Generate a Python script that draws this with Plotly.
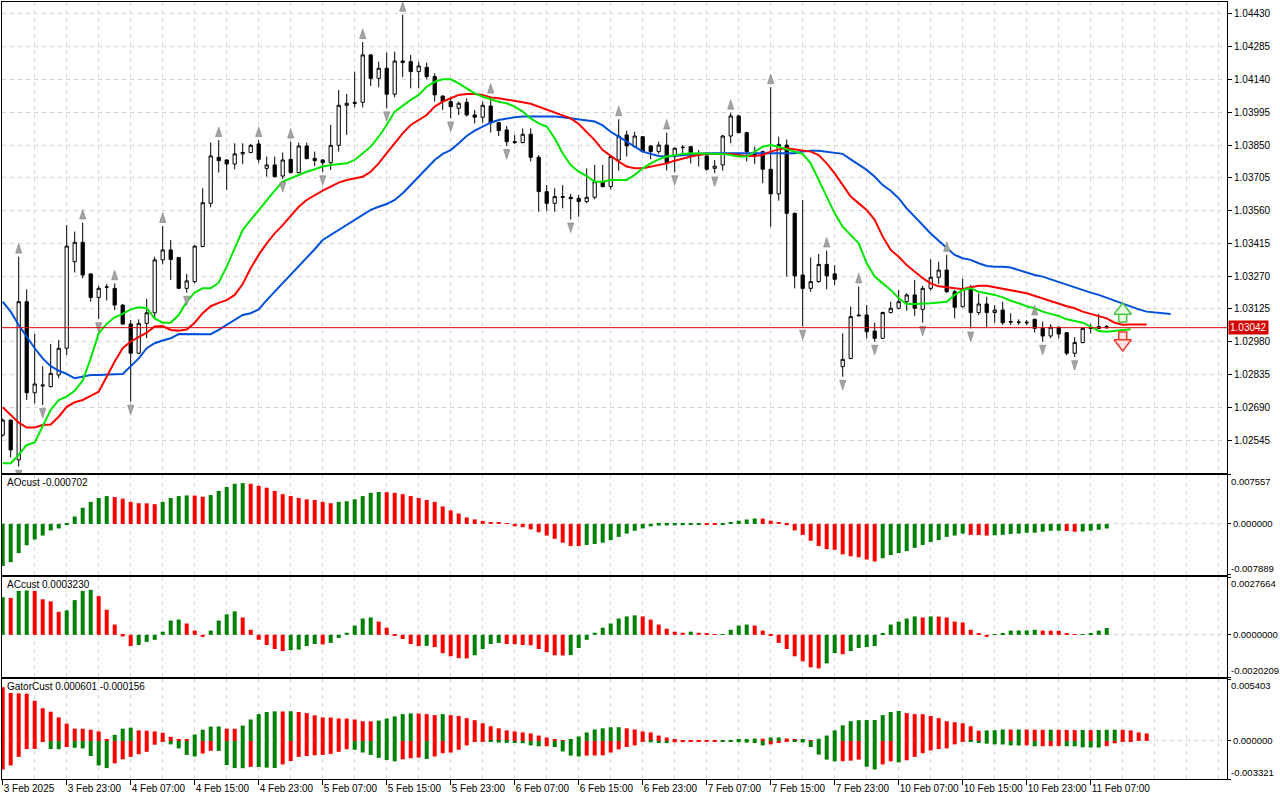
import plotly.graph_objects as go

# ---------------- time axis ----------------
TICK_BARS = [0, 8, 16, 24, 32, 40, 48, 56, 64, 72, 80, 88, 96, 104, 112, 120, 128, 136]
TICK_LABELS = ["3 Feb 2025", "3 Feb 23:00", "4 Feb 07:00", "4 Feb 15:00", "4 Feb 23:00",
               "5 Feb 07:00", "5 Feb 15:00", "5 Feb 23:00", "6 Feb 07:00", "6 Feb 15:00",
               "6 Feb 23:00", "7 Feb 07:00", "7 Feb 15:00", "7 Feb 23:00", "10 Feb 07:00",
               "10 Feb 15:00", "10 Feb 23:00", "11 Feb 07:00"]

PRICE_TICKS = [1.04430, 1.04285, 1.04140, 1.03995, 1.03850, 1.03705, 1.03560,
               1.03415, 1.03270, 1.03125, 1.02980, 1.02835, 1.02690, 1.02545]
PRICE_RANGE = [1.02399, 1.04483]

# ---------------- candles (EURUSD H1) ----------------
OPEN = [1.02567, 1.02633, 1.02457, 1.03157, 1.02754, 1.02784, 1.02781, 1.02833, 1.02951, 1.03334,
        1.03420, 1.03280, 1.03176, 1.03221, 1.03216, 1.03142, 1.03058, 1.02929, 1.03061, 1.03108,
        1.03342, 1.03386, 1.03352, 1.03216, 1.03246, 1.03401, 1.03592, 1.03796, 1.03784, 1.03766,
        1.03811, 1.03817, 1.03855, 1.03747, 1.03762, 1.03713, 1.03787, 1.03728, 1.03846, 1.03791,
        1.03784, 1.03772, 1.03849, 1.04026, 1.04039, 1.04039, 1.04249, 1.04145, 1.04190, 1.04075,
        1.04222, 1.04219, 1.04175, 1.04194, 1.04153, 1.04067, 1.04042, 1.04013, 1.04039, 1.03983,
        1.03973, 1.04023, 1.03949, 1.03917, 1.03865, 1.03861, 1.03898, 1.03796, 1.03644, 1.03592,
        1.03622, 1.03619, 1.03614, 1.03600, 1.03619, 1.03688, 1.03666, 1.03784, 1.03895, 1.03843,
        1.03887, 1.03846, 1.03821, 1.03850, 1.03799, 1.03839, 1.03843, 1.03809, 1.03802, 1.03747,
        1.03762, 1.03890, 1.03979, 1.03905, 1.03814, 1.03821, 1.03743, 1.03634, 1.03850, 1.03548,
        1.03275, 1.03216, 1.03246, 1.03322, 1.03280, 1.02870, 1.02906, 1.03098, 1.03098, 1.03027,
        1.02995, 1.03109, 1.03128, 1.03157, 1.03187, 1.03123, 1.03216, 1.03265, 1.03297, 1.03201,
        1.03135, 1.03221, 1.03109, 1.03147, 1.03109, 1.03120, 1.03069, 1.03067, 1.03066, 1.03079,
        1.03039, 1.03005, 1.03044, 1.03020, 1.02929, 1.02976, 1.03039, 1.03047, 1.03047]
HIGH = [1.02640, 1.02636, 1.03356, 1.03212, 1.03014, 1.02872, 1.02970, 1.02988, 1.03496, 1.03467,
        1.03507, 1.03283, 1.03227, 1.03235, 1.03238, 1.03147, 1.03076, 1.03079, 1.03169, 1.03356,
        1.03492, 1.03430, 1.03353, 1.03280, 1.03406, 1.03659, 1.03861, 1.03872, 1.03787, 1.03858,
        1.03858, 1.03855, 1.03872, 1.03799, 1.03799, 1.03817, 1.03865, 1.03861, 1.03861, 1.03821,
        1.03787, 1.03939, 1.04094, 1.04076, 1.04175, 1.04306, 1.04252, 1.04219, 1.04259, 1.04263,
        1.04426, 1.04249, 1.04219, 1.04215, 1.04168, 1.04069, 1.04064, 1.04042, 1.04057, 1.04005,
        1.04042, 1.04064, 1.03952, 1.03934, 1.03895, 1.03924, 1.03924, 1.03806, 1.03673, 1.03659,
        1.03673, 1.03634, 1.03629, 1.03747, 1.03762, 1.03762, 1.03806, 1.03964, 1.03914, 1.03909,
        1.03890, 1.03850, 1.03865, 1.03905, 1.03839, 1.03850, 1.03846, 1.03828, 1.03814, 1.03784,
        1.03895, 1.03993, 1.03983, 1.03909, 1.03843, 1.03825, 1.04106, 1.03887, 1.03875, 1.03551,
        1.03607, 1.03353, 1.03368, 1.03383, 1.03319, 1.03017, 1.03135, 1.03224, 1.03142, 1.03064,
        1.03113, 1.03157, 1.03209, 1.03194, 1.03253, 1.03227, 1.03344, 1.03334, 1.03364, 1.03209,
        1.03260, 1.03231, 1.03194, 1.03179, 1.03142, 1.03157, 1.03106, 1.03079, 1.03076, 1.03082,
        1.03069, 1.03058, 1.03047, 1.03023, 1.03000, 1.03042, 1.03058, 1.03103, 1.03054]
LOW = [1.02560, 1.02468, 1.02427, 1.02722, 1.02707, 1.02700, 1.02778, 1.02818, 1.02921, 1.03286,
       1.03260, 1.03157, 1.03080, 1.03162, 1.03120, 1.03054, 1.02715, 1.02926, 1.02995, 1.03083,
       1.03322, 1.03253, 1.03215, 1.03197, 1.03238, 1.03398, 1.03575, 1.03728, 1.03651, 1.03743,
       1.03766, 1.03814, 1.03772, 1.03710, 1.03707, 1.03700, 1.03725, 1.03725, 1.03787, 1.03757,
       1.03730, 1.03740, 1.03821, 1.03895, 1.04017, 1.04017, 1.04111, 1.04106, 1.04013, 1.04061,
       1.04150, 1.04101, 1.04101, 1.04141, 1.04042, 1.04005, 1.03968, 1.03983, 1.03976, 1.03946,
       1.03949, 1.03905, 1.03890, 1.03846, 1.03855, 1.03858, 1.03777, 1.03555, 1.03560, 1.03555,
       1.03570, 1.03521, 1.03533, 1.03592, 1.03610, 1.03663, 1.03654, 1.03737, 1.03799, 1.03840,
       1.03817, 1.03787, 1.03811, 1.03737, 1.03730, 1.03814, 1.03769, 1.03755, 1.03737, 1.03725,
       1.03737, 1.03858, 1.03902, 1.03777, 1.03766, 1.03681, 1.03489, 1.03604, 1.03268, 1.03216,
       1.03047, 1.03201, 1.03241, 1.03212, 1.03231, 1.02825, 1.02902, 1.03091, 1.02995, 1.02980,
       1.02992, 1.03105, 1.03123, 1.03117, 1.03094, 1.03064, 1.03206, 1.03235, 1.03197, 1.03083,
       1.03132, 1.03039, 1.03098, 1.03045, 1.03064, 1.03054, 1.03054, 1.03054, 1.03054, 1.03020,
       1.02980, 1.02995, 1.02995, 1.02920, 1.02912, 1.02973, 1.03017, 1.03036, 1.03038]
CLOSE = [1.02633, 1.02501, 1.03157, 1.02754, 1.02793, 1.02788, 1.02840, 1.02951, 1.03403, 1.03420,
         1.03275, 1.03176, 1.03216, 1.03222, 1.03142, 1.03058, 1.02929, 1.03061, 1.03108, 1.03342,
         1.03386, 1.03344, 1.03216, 1.03249, 1.03403, 1.03595, 1.03802, 1.03781, 1.03766, 1.03811,
         1.03817, 1.03849, 1.03787, 1.03762, 1.03710, 1.03784, 1.03728, 1.03846, 1.03790, 1.03781,
         1.03772, 1.03849, 1.04026, 1.04035, 1.04035, 1.04249, 1.04145, 1.04190, 1.04075, 1.04222,
         1.04216, 1.04175, 1.04200, 1.04153, 1.04072, 1.04042, 1.04020, 1.04035, 1.03983, 1.03973,
         1.04026, 1.03949, 1.03914, 1.03865, 1.03861, 1.03898, 1.03796, 1.03644, 1.03592, 1.03622,
         1.03619, 1.03613, 1.03600, 1.03619, 1.03688, 1.03666, 1.03799, 1.03890, 1.03846, 1.03890,
         1.03821, 1.03821, 1.03850, 1.03772, 1.03836, 1.03840, 1.03806, 1.03805, 1.03743, 1.03757,
         1.03890, 1.03979, 1.03905, 1.03821, 1.03802, 1.03743, 1.03634, 1.03853, 1.03548, 1.03271,
         1.03216, 1.03246, 1.03322, 1.03271, 1.03256, 1.02902, 1.03091, 1.03095, 1.03024, 1.02995,
         1.03109, 1.03128, 1.03157, 1.03187, 1.03128, 1.03216, 1.03265, 1.03297, 1.03201, 1.03132,
         1.03216, 1.03109, 1.03147, 1.03109, 1.03120, 1.03064, 1.03067, 1.03066, 1.03064, 1.03039,
         1.03005, 1.03044, 1.03014, 1.02929, 1.02976, 1.03039, 1.03041, 1.03039, 1.03042]

# ---------------- Alligator lines (as displayed, incl. forward shift) ----------------
JAW = [1.03157, 1.03113, 1.03054, 1.03002, 1.02951, 1.02906, 1.02872, 1.02852, 1.02837, 1.02818,
       1.02825, 1.02833, 1.02833, 1.02833, 1.02836, 1.02837, 1.02870, 1.02906, 1.02951, 1.02973,
       1.02985, 1.02995, 1.03014, 1.03014, 1.03013, 1.03013, 1.03013, 1.03032, 1.03054, 1.03079,
       1.03098, 1.03106, 1.03123, 1.03164, 1.03201, 1.03238, 1.03275, 1.03312, 1.03349, 1.03389,
       1.03430, 1.03452, 1.03474, 1.03496, 1.03519, 1.03541, 1.03563, 1.03577, 1.03589, 1.03607,
       1.03637, 1.03673, 1.03710, 1.03747, 1.03784, 1.03811, 1.03828, 1.03858, 1.03890, 1.03914,
       1.03932, 1.03949, 1.03961, 1.03968, 1.03973, 1.03976, 1.03976, 1.03979, 1.03979, 1.03976,
       1.03973, 1.03968, 1.03961, 1.03958, 1.03954, 1.03937, 1.03909, 1.03887, 1.03865, 1.03843,
       1.03821, 1.03811, 1.03802, 1.03799, 1.03802, 1.03806, 1.03811, 1.03814, 1.03814, 1.03814,
       1.03814, 1.03814, 1.03814, 1.03814, 1.03811, 1.03811, 1.03811, 1.03811, 1.03811, 1.03814,
       1.03821, 1.03825, 1.03825, 1.03821, 1.03816, 1.03811, 1.03787, 1.03762, 1.03740, 1.03710,
       1.03673, 1.03648, 1.03614, 1.03570, 1.03533, 1.03496, 1.03459, 1.03427, 1.03394, 1.03364,
       1.03349, 1.03342, 1.03327, 1.03315, 1.03312, 1.03312, 1.03308, 1.03297, 1.03285, 1.03275,
       1.03268, 1.03256, 1.03246, 1.03231, 1.03221, 1.03209, 1.03197, 1.03187, 1.03174, 1.03161,
       1.03150, 1.03135, 1.03123, 1.03113, 1.03110, 1.03106, 1.03103]
TEETH = [1.02690, 1.02656, 1.02622, 1.02600, 1.02600, 1.02611, 1.02614, 1.02648, 1.02692, 1.02712,
         1.02722, 1.02740, 1.02759, 1.02825, 1.02892, 1.02951, 1.02981, 1.03000, 1.03020, 1.03047,
         1.03049, 1.03032, 1.03029, 1.03034, 1.03064, 1.03106, 1.03137, 1.03152, 1.03164, 1.03187,
         1.03235, 1.03305, 1.03364, 1.03415, 1.03459, 1.03496, 1.03535, 1.03577, 1.03607, 1.03629,
         1.03648, 1.03666, 1.03684, 1.03695, 1.03703, 1.03710, 1.03732, 1.03769, 1.03814, 1.03858,
         1.03902, 1.03939, 1.03961, 1.03983, 1.04020, 1.04042, 1.04057, 1.04072, 1.04076, 1.04076,
         1.04072, 1.04061, 1.04057, 1.04052, 1.04047, 1.04039, 1.04033, 1.04020, 1.04008, 1.03993,
         1.03979, 1.03968, 1.03943, 1.03909, 1.03872, 1.03828, 1.03802, 1.03777, 1.03755, 1.03747,
         1.03747, 1.03755, 1.03762, 1.03769, 1.03781, 1.03791, 1.03799, 1.03806, 1.03811, 1.03811,
         1.03811, 1.03811, 1.03806, 1.03802, 1.03802, 1.03806, 1.03821, 1.03831, 1.03836, 1.03831,
         1.03825, 1.03821, 1.03806, 1.03769, 1.03725, 1.03673, 1.03622, 1.03592, 1.03563, 1.03519,
         1.03445, 1.03386, 1.03356, 1.03319, 1.03290, 1.03261, 1.03238, 1.03225, 1.03221, 1.03216,
         1.03212, 1.03221, 1.03227, 1.03227, 1.03221, 1.03216, 1.03209, 1.03201, 1.03194, 1.03182,
         1.03172, 1.03161, 1.03147, 1.03137, 1.03128, 1.03113, 1.03103, 1.03094, 1.03083, 1.03064,
         1.03055, 1.03056, 1.03056, 1.03056]
LIPS = [1.02442, 1.02442, 1.02479, 1.02523, 1.02534, 1.02604, 1.02678, 1.02722, 1.02737, 1.02763,
        1.02808, 1.02906, 1.03017, 1.03059, 1.03088, 1.03103, 1.03123, 1.03132, 1.03128, 1.03083,
        1.03064, 1.03064, 1.03098, 1.03157, 1.03197, 1.03216, 1.03216, 1.03241, 1.03312, 1.03393,
        1.03474, 1.03519, 1.03563, 1.03607, 1.03648, 1.03688, 1.03703, 1.03718, 1.03732, 1.03743,
        1.03755, 1.03762, 1.03766, 1.03769, 1.03784, 1.03814, 1.03843, 1.03887, 1.03939, 1.03998,
        1.04026, 1.04050, 1.04072, 1.04108, 1.04130, 1.04141, 1.04141, 1.04123, 1.04101, 1.04079,
        1.04064, 1.04052, 1.04042, 1.04035, 1.04020, 1.03998, 1.03968, 1.03946, 1.03932, 1.03880,
        1.03814, 1.03762, 1.03732, 1.03713, 1.03688, 1.03688, 1.03695, 1.03695, 1.03695, 1.03718,
        1.03747, 1.03769, 1.03787, 1.03799, 1.03806, 1.03811, 1.03814, 1.03814, 1.03814, 1.03811,
        1.03811, 1.03806, 1.03799, 1.03799, 1.03821, 1.03843, 1.03850, 1.03843, 1.03831, 1.03821,
        1.03811, 1.03769, 1.03695, 1.03622, 1.03548, 1.03489, 1.03452, 1.03415, 1.03327, 1.03268,
        1.03238, 1.03209, 1.03172, 1.03147, 1.03147, 1.03147, 1.03150, 1.03153, 1.03157, 1.03187,
        1.03209, 1.03216, 1.03201, 1.03194, 1.03187, 1.03176, 1.03161, 1.03150, 1.03137, 1.03128,
        1.03113, 1.03103, 1.03094, 1.03079, 1.03073, 1.03064, 1.03047, 1.03027, 1.03024, 1.03027,
        1.03032, 1.03035]

# ---------------- fractals & signal ----------------
FRACTAL_UP_BARS = [2, 10, 14, 20, 27, 32, 36, 45, 50, 61, 77, 83, 91, 96, 103, 107, 118, 129]
FRACTAL_DN_BARS = [2, 5, 12, 16, 23, 35, 40, 48, 56, 63, 71, 84, 89, 100, 105, 109, 115, 121, 130, 134]
SIGNAL_BAR = 140
SIGNAL_UP_TIP = 1.03151
SIGNAL_DN_TIP = 1.02939

# ---------------- AO (x1e-4) ----------------
AO_E4 = [-65, -59, -45, -33, -24, -18, -10, -7, -0.5, 11.5,
         25, 34, 40, 43, 41.5, 39, 34, 32, 31.8, 30.5,
         34, 40, 43, 44, 43.8, 42, 44.6, 51, 57, 62,
         63, 62, 59, 56, 51, 46, 43, 40, 38, 37,
         34, 32, 34, 35, 38, 43, 48, 49.3, 49, 48,
         46, 43, 40, 37, 34, 27, 21, 16, 10, 7,
         4.7, 3, 2, 0.5, -3.7, -5, -8.4, -13, -18, -23,
         -29, -34, -34.2, -32.5, -31, -29, -25, -20, -15, -10.5,
         -7, -3.7, -2.6, -2.4, -2.2, -2, -0.5, -0.3, -0.4, -0.5,
         -0.3, 1.5, 5, 6.8, 8.4, 8.2, 5, 2, -2, -10,
         -17, -26, -34, -39, -40, -47, -50, -51.5, -55, -58,
         -53, -48, -45, -42, -37, -32.5, -28, -25, -20, -18,
         -15, -17, -17.2, -18, -17.5, -16.8, -15.5, -15, -13.6, -13.5,
         -12, -10.5, -10.4, -11, -12, -11.8, -10.5, -9, -7.02]
AO_COLORS = ("GGGGGGGGGG" "GGGGRRRRRR" "GGGGRRGGGG" "GRRRRRRRRR" "RRGGGGGGRR"
             "RRRRRRRRRR" "RRRRRRRRRR" "RRRGGGGGGG" "GGGGGGGGRR" "GGGGGRRRRR"
             "RRRRRRRRRR" "GGGGGGGGGG" "GRRRGGGGGG" "GGGRRGGGG")
AO_RANGE = [-0.007889, 0.007557]

# ---------------- AC (x1e-4) ----------------
AC_E4 = [18, 17.6, 21, 21.2, 21, 17, 16, 11, 11.7, 16.6,
         21, 21.5, 18.5, 12, 4.9, -0.8, -5.4, -4.9, -3.4, -2.4,
         1.5, 6.8, 7.3, 5.4, 2, -1, 2, 6.8, 9.8, 11.2,
         8.3, 2.4, -2.4, -4.9, -6.8, -7.8, -7.3, -7.1, -5.4, -4.4,
         -4.6, -3.9, -1.5, 1, 4.4, 7.8, 8.3, 6.3, 3.4, -0.5,
         -2, -4.4, -5.4, -5.3, -5.9, -8.8, -10.3, -11.2, -11.3, -9.8,
         -6.8, -4.4, -3.9, -4.4, -4.5, -4.9, -5.0, -6.8, -8.3, -9.8,
         -9.9, -9.7, -6.3, -2.4, 1, 3.4, 5.4, 7.8, 8.8, 9.3,
         8.8, 7.3, 4.9, 2.9, 1.5, 1, 1.5, 1, 0.5, 0.1,
         0.15, 2.4, 4.4, 4.9, 4.4, 2, -0.5, -3.9, -6.8, -10.3,
         -12.7, -15.6, -16.1, -13.7, -8.8, -9.3, -7.8, -6.3, -5.9, -5.4,
         0.5, 4.9, 6.3, 7.8, 8.8, 8.3, 8.8, 8.7, 8.3, 6.3,
         5.9, 2.4, 0.5, -1, 0.1, 0.5, 2, 2.05, 2.1, 2.4,
         2.0, 1.95, 1.9, 0.5, 0.2, 0.3, 0.6, 2, 3.23]
AC_COLORS = ("GRGGRRRRGG" "GGRRRRRGGG" "GGGRRRGGGG" "RRRRRRGGGG" "RGGGGGGRRR"
             "RRRGRRRRRG" "GGGRRRRRRR" "RGGGGGGGGG" "RRRRRRGRRR" "GGGGRRRRRR"
             "RRRGGRGGGG" "GGGGGRGRRR" "RRRRGGGGGG" "RRRRRGGGG")
AC_RANGE = [-0.0020209, 0.0027664]

# ---------------- Gator (x1e-4) ----------------
GATOR_UP_E4 = [46.9, 41.8, 41.5, 41.2, 35.0, 28.5, 25.5, 20.5, 15.1, 10.7,
               10.6, 9.8, 8.3, 1.8, 5.3, 10.7, 11.6, 9.2, 8.9, 8.3,
               7.1, 3.6, 1.8, 1.7, 5.6, 9.8, 12.5, 12.6, 10.7, 10.6,
               13.4, 18.7, 23.4, 25.2, 25.8, 25.7, 25.9, 25.2, 24.3, 22.3,
               20.5, 20.4, 19.6, 19.5, 18.7, 17.2, 17.1, 17.8, 19.6, 21.4,
               23.4, 24.0, 23.9, 23.4, 22.5, 23.4, 22.5, 21.7, 19.9, 18.1,
               15.4, 12.8, 11.0, 9.2, 8.3, 7.4, 6.5, 4.7, 3.0, 1.2,
               0.2, 1.2, 3.9, 7.4, 10.0, 11.0, 11.9, 12.0, 11.0, 10.0,
               8.3, 7.4, 4.7, 3.0, 1.2, 0.3, 0.2, 0.1, 0.2, 0.3,
               0.3, 0.6, 1.2, 1.3, 2.1, 2.0, 3.0, 3.1, 2.1, 1.2,
               1.3, 0.3, 1.9, 4.7, 9.2, 13.6, 17.2, 18.1, 18.2, 18.3,
               22.5, 25.2, 26.1, 24.3, 23.4, 23.3, 21.7, 19.9, 17.2, 16.3,
               15.4, 12.8, 8.9, 9.2, 9.3, 10.0, 9.9, 10.0, 9.9, 9.8,
               9.7, 9.8, 9.7, 9.6, 9.5, 9.6, 9.5, 9.6, 9.7, 9.8,
               9.7, 9.2, 7.4, 6.5]
GATOR_UP_COLORS = ("RRRRRRRRRR" "RRRRGGGRRR" "RRRRGGGGRR" "GGGGGRGRRR" "RRRRRRRGGG"
                   "GGRRRGRRRR" "RRRRRRRRRR" "RGGGGGGGRR" "RRRRRRRRGG" "RGGGGRGGRR"
                   "GRGGGGGGGG" "GGGRRRRRRR" "RRRGGGRGRR" "RGRRRGRGGG" "RRRR")
GATOR_DN_E4 = [-24.9, -21.4, -13.9, -7.1, -7.0, -0.3, -7.1, -7.2, -5.3, -5.9,
               -6.5, -13.1, -21.4, -23.7, -19.6, -16.0, -13.9, -11.6, -9.5, -3.3,
               -0.6, -3.0, -6.5, -12.2, -13.6, -11.0, -8.6, -8.7, -21.1, -23.7,
               -23.8, -22.6, -22.7, -23.3, -23.6, -20.5, -17.5, -13.9, -13.1, -12.5,
               -12.2, -11.3, -9.5, -7.2, -7.7, -10.1, -12.2, -14.8, -16.6, -17.8,
               -16.0, -15.1, -14.5, -15.7, -13.6, -10.7, -10.1, -7.7, -3.9, -0.9,
               -0.8, -0.9, -1.5, -1.7, -1.8, -2.0, -3.9, -4.7, -4.6, -5.3,
               -9.2, -12.8, -13.6, -12.8, -12.7, -12.6, -10.1, -7.4, -5.3, -3.9,
               -0.3, -1.2, -1.8, -1.9, -1.2, -1.1, -0.6, -0.3, -0.2, -0.1,
               -0.2, -0.6, -1.2, -1.5, -1.8, -3.9, -3.0, -1.8, -0.6, -1.0,
               -1.4, -5.3, -11.9, -16.3, -17.8, -17.7, -17.2, -16.3, -22.5, -24.9,
               -20.5, -17.8, -18.7, -16.9, -13.9, -10.7, -8.3, -7.1, -6.5, -3.0,
               -0.3, -0.9, -1.8, -2.4, -3.0, -3.1, -3.9, -4.0, -3.8, -4.7,
               -4.6, -4.5, -4.4, -4.6, -4.7, -5.6, -5.7, -5.8, -4.5, -2.1,
               -0.9, -0.3]
GATOR_DN_COLORS = ("RRRRRRGGRG" "GGGGRRRRRR" "RGGGGRRGGG" "GRGGGRRRRR" "RRRRGGGGGG"
                   "RRRGRRRRRR" "RGGGGGGGRG" "GGGRRRRRRR" "RGGGRRRRRR" "GGGGGGRRRG"
                   "GGGGGRRRGG" "RRGRRRRRRR" "RGGGGGGGRG" "RRRGGGGGRR" "RR")
GATOR_RANGE = [-0.003321, 0.005403]

# ---------------- styling ----------------
FONT = "Liberation Sans"
GRID = "#D6D6D6"
GRID_DASH = "4px,4px"
BAR_COLOR = {"G": "#008000", "R": "#FF0000"}
X_RANGE = [-0.0875, 153.0375]
FRACTAL_OFFSET = 0.00058
MAIN_PANE_PX = 471
PX = (PRICE_RANGE[1] - PRICE_RANGE[0]) / MAIN_PANE_PX   # price per pixel

D_MAIN = [0.39382, 1.0]
D_AO = [0.26255, 0.39125]
D_AC = [0.13127, 0.25997]
D_GATOR = [0.0, 0.12870]

last_price = CLOSE[-1]
bars = list(range(len(CLOSE)))

fig = go.Figure()

fig.add_trace(go.Candlestick(
    x=bars, open=OPEN, high=HIGH, low=LOW, close=CLOSE,
    increasing=dict(line=dict(color="black", width=1), fillcolor="white"),
    decreasing=dict(line=dict(color="black", width=1), fillcolor="black"),
    whiskerwidth=0, xaxis="x", yaxis="y", showlegend=False, hoverinfo="skip"))

for series, color in ((JAW, "#0050DC"), (TEETH, "#FF0000"), (LIPS, "#00E600")):
    fig.add_trace(go.Scatter(x=list(range(len(series))), y=series, mode="lines",
                             line=dict(color=color, width=2), xaxis="x", yaxis="y",
                             showlegend=False, hoverinfo="skip"))

fig.add_trace(go.Scatter(
    x=FRACTAL_UP_BARS, y=[HIGH[k] + FRACTAL_OFFSET for k in FRACTAL_UP_BARS],
    mode="markers", marker=dict(symbol="arrow", size=10, color="#A4A4A4",
                                line=dict(color="#808080", width=0.6)),
    xaxis="x", yaxis="y", showlegend=False, hoverinfo="skip"))
fig.add_trace(go.Scatter(
    x=FRACTAL_DN_BARS, y=[LOW[k] - FRACTAL_OFFSET for k in FRACTAL_DN_BARS],
    mode="markers", marker=dict(symbol="arrow", angle=180, size=10, color="#A4A4A4",
                                line=dict(color="#808080", width=0.6)),
    xaxis="x", yaxis="y", showlegend=False, hoverinfo="skip"))

# signal block arrows: stem (square) + head (triangle); tip is the arrow point
for tip, direction, head_sym, line_c, fill_c in (
        (SIGNAL_UP_TIP, 1, "triangle-up", "#4CC44C", "#E8FBE0"),
        (SIGNAL_DN_TIP, -1, "triangle-down", "#F03A2A", "#FFE2E2")):
    fig.add_trace(go.Scatter(x=[SIGNAL_BAR], y=[tip - direction * 15 * PX], mode="markers",
                             marker=dict(symbol="square", size=8, color=fill_c,
                                         line=dict(color=line_c, width=1.5)),
                             xaxis="x", yaxis="y", showlegend=False, hoverinfo="skip"))
    fig.add_trace(go.Scatter(x=[SIGNAL_BAR], y=[tip - direction * 7.4 * PX], mode="markers",
                             marker=dict(symbol=head_sym, size=15, color=fill_c,
                                         line=dict(color=line_c, width=1.5)),
                             xaxis="x", yaxis="y", showlegend=False, hoverinfo="skip"))

fig.add_trace(go.Bar(x=list(range(len(AO_E4))), y=[v * 1e-4 for v in AO_E4],
                     marker=dict(color=[BAR_COLOR[c] for c in AO_COLORS], line=dict(width=0)),
                     width=0.5, xaxis="x2", yaxis="y2", showlegend=False, hoverinfo="skip"))
fig.add_trace(go.Bar(x=list(range(len(AC_E4))), y=[v * 1e-4 for v in AC_E4],
                     marker=dict(color=[BAR_COLOR[c] for c in AC_COLORS], line=dict(width=0)),
                     width=0.5, xaxis="x3", yaxis="y3", showlegend=False, hoverinfo="skip"))
fig.add_trace(go.Bar(x=list(range(len(GATOR_UP_E4))), y=[v * 1e-4 for v in GATOR_UP_E4],
                     marker=dict(color=[BAR_COLOR[c] for c in GATOR_UP_COLORS], line=dict(width=0)),
                     width=0.5, xaxis="x4", yaxis="y4", showlegend=False, hoverinfo="skip"))
fig.add_trace(go.Bar(x=list(range(len(GATOR_DN_E4))), y=[v * 1e-4 for v in GATOR_DN_E4],
                     marker=dict(color=[BAR_COLOR[c] for c in GATOR_DN_COLORS], line=dict(width=0)),
                     width=0.5, xaxis="x4", yaxis="y4", showlegend=False, hoverinfo="skip"))


def xaxis(anchor, labels):
    ax = dict(anchor=anchor, domain=[0, 1], range=X_RANGE, tickmode="array",
              tickvals=TICK_BARS, ticktext=TICK_LABELS, showgrid=True, gridcolor=GRID,
              griddash=GRID_DASH, gridwidth=1, zeroline=False, showline=True, mirror=True,
              linecolor="black", linewidth=1,
              minor=dict(tickmode="linear", tick0=0, dtick=4, showgrid=True,
                         gridcolor=GRID, griddash=GRID_DASH, ticks=""))
    if labels:
        ax.update(showticklabels=True, ticks="outside", ticklen=5, tickcolor="black",
                  tickangle=0, ticklabelposition="outside right",
                  tickfont=dict(family=FONT, size=10, color="black"))
    else:
        ax.update(showticklabels=False, ticks="")
    if anchor != "y":
        ax["matches"] = "x"
    return ax


def ind_yaxis(anchor, domain, rng, zero_label):
    return dict(anchor=anchor, domain=domain, side="right", range=rng, tickmode="array",
                tickvals=[rng[0], 0, rng[1]], ticktext=["", zero_label, ""],
                ticks="outside", ticklen=3, tickcolor="black",
                tickfont=dict(family=FONT, size=9.5, color="black"),
                showgrid=True, gridcolor=GRID, griddash=GRID_DASH, zeroline=False,
                showline=True, mirror=True, linecolor="black", linewidth=1, fixedrange=True)


layout = dict(
    width=1280, height=800, margin=dict(l=2, r=53, t=2, b=21),
    paper_bgcolor="white", plot_bgcolor="white", barmode="overlay", boxgap=0.42,
    showlegend=False, hovermode=False,
    font=dict(family=FONT, size=10, color="black"),
    xaxis=dict(xaxis("y", False), rangeslider=dict(visible=False)),
    xaxis2=xaxis("y2", False),
    xaxis3=xaxis("y3", False),
    xaxis4=xaxis("y4", True),
    yaxis=dict(anchor="x", domain=D_MAIN, side="right", range=PRICE_RANGE,
               tickmode="array", tickvals=PRICE_TICKS,
               ticktext=["%.5f" % v for v in PRICE_TICKS],
               ticks="outside", ticklen=4, tickcolor="black",
               tickfont=dict(family=FONT, size=10, color="black"),
               showgrid=True, gridcolor=GRID, griddash=GRID_DASH, zeroline=False,
               showline=True, mirror=True, linecolor="black", linewidth=1),
    yaxis2=ind_yaxis("x2", D_AO, AO_RANGE, "0.000000"),
    yaxis3=ind_yaxis("x3", D_AC, AC_RANGE, "0.0000000"),
    yaxis4=ind_yaxis("x4", D_GATOR, GATOR_RANGE, "0.000000"),
)
fig.update_layout(**layout)

# current price line
fig.add_shape(type="line", xref="paper", x0=0, x1=1, yref="y", y0=last_price, y1=last_price,
              line=dict(color="#E00000", width=1))

ann = []
ann.append(dict(xref="paper", x=1, xanchor="left", xshift=1, yref="y", y=last_price,
                yanchor="middle", text="%.5f" % last_price, showarrow=False,
                bgcolor="#D40000", borderpad=1,
                font=dict(family=FONT, size=10, color="white")))

titles = [("AOcust -0.000702", D_AO), ("ACcust 0.0003230", D_AC),
          ("GatorCust 0.000601 -0.000156", D_GATOR)]
for text, dom in titles:
    ann.append(dict(xref="paper", x=0, xanchor="left", xshift=4, yref="paper", y=dom[1],
                    yanchor="top", yshift=-1, text=text, showarrow=False, borderpad=0,
                    font=dict(family=FONT, size=10, color="black")))

edge_labels = [("0.007557", "-0.007889", D_AO), ("0.0027664", "-0.0020209", D_AC),
               ("0.005403", "-0.003321", D_GATOR)]
for top, bot, dom in edge_labels:
    ann.append(dict(xref="paper", x=1, xanchor="left", xshift=3, yref="paper", y=dom[1],
                    yanchor="top", text=top, showarrow=False, borderpad=0,
                    font=dict(family=FONT, size=9.5, color="black")))
    ann.append(dict(xref="paper", x=1, xanchor="left", xshift=3, yref="paper", y=dom[0],
                    yanchor="bottom", text=bot, showarrow=False, borderpad=0,
                    font=dict(family=FONT, size=9.5, color="black")))

fig.update_layout(annotations=ann)

fig.write_html("out.html",
               config={"displayModeBar": False},
               post_script="document.body.style.margin='0px';"
                           "document.body.style.overflow='hidden';")
